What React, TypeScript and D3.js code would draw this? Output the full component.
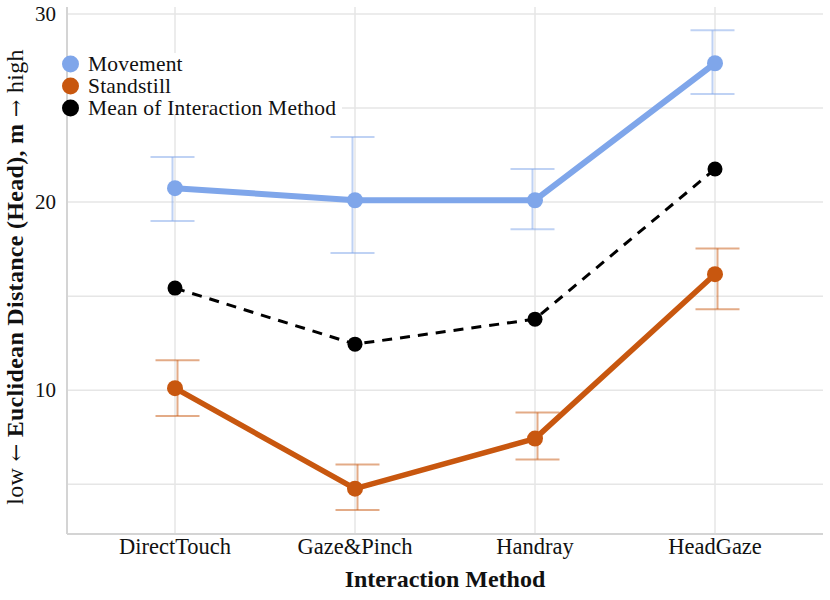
import React from "react";
import * as d3 from "d3";

const categories = ["DirectTouch", "Gaze&Pinch", "Handray", "HeadGaze"];
const movementMean = [20.74, 20.1, 20.1, 27.38];
const movementLow = [19.0, 17.29, 18.56, 25.74];
const movementHigh = [22.4, 23.46, 21.76, 29.13];
const standstillMean = [10.11, 4.77, 7.43, 16.17];
const standstillLow = [8.63, 3.63, 6.32, 14.31];
const standstillHigh = [11.6, 6.06, 8.82, 17.54];
const overallMean = [15.43, 12.45, 13.78, 21.76];
const yTicks = [10, 20, 30];
const yGrid = [5, 10, 15, 20, 25, 30];
const legendLabels = ["Movement", "Standstill", "Mean of Interaction Method"];

const W = 830;
const H = 600;
const left = 67;
const right = 823;
const top = 7;
const bottom = 534;

const BLUE = "#7fa6ea";
const ORANGE = "#c8570f";
const FONT = "'Liberation Serif', 'Times New Roman', serif";
const ARROWFONT = "'DejaVu Serif', serif";

export default function App() {
  const x = d3.scalePoint<string>().domain(categories).range([left, right]).padding(0.6);
  const y = d3.scaleLinear().domain([2.36, 30.37]).range([bottom, top]);
  const line = d3
    .line<number>()
    .x((_, i) => x(categories[i]) as number)
    .y((d) => y(d));

  const series = [
    { name: legendLabels[0], color: BLUE, mean: movementMean, lo: movementLow, hi: movementHigh, dx: -2.5, w: 6 },
    { name: legendLabels[1], color: ORANGE, mean: standstillMean, lo: standstillLow, hi: standstillHigh, dx: 2.5, w: 5.5 },
  ];
  const cap = 22;

  return (
    <svg width={W} height={H} style={{ position: "absolute", left: 0, top: 0, fontFamily: FONT }}>
      <rect width={W} height={H} fill="#fff" />
      {yGrid.map((t) => (
        <line key={"gy" + t} x1={left} x2={right} y1={y(t)} y2={y(t)} stroke="#e6e6e6" strokeWidth={1.5} />
      ))}
      {categories.map((c) => (
        <line key={"gx" + c} x1={x(c)} x2={x(c)} y1={top} y2={bottom} stroke="#e6e6e6" strokeWidth={1.5} />
      ))}
      <line x1={left} x2={left} y1={top} y2={bottom} stroke="#d4d4d4" strokeWidth={2} />
      <line x1={left} x2={right} y1={bottom} y2={bottom} stroke="#d4d4d4" strokeWidth={2} />

      {yTicks.map((t) => (
        <text key={"yt" + t} x={56} y={y(t)} dy="0.33em" textAnchor="end" fontSize={21} fill="#111">
          {t}
        </text>
      ))}
      {categories.map((c) => (
        <text key={"xt" + c} x={x(c)} y={554} textAnchor="middle" fontSize={22.5} fill="#111">
          {c}
        </text>
      ))}
      <text x={(left + right) / 2} y={587} textAnchor="middle" fontSize={24} fontWeight="bold" fill="#111">
        Interaction Method
      </text>
      <text
        transform={`translate(23, 277) rotate(-90)`}
        textAnchor="middle"
        fontSize={24}
        fill="#111"
        letterSpacing={0.3}
      >
        <tspan>low </tspan>
        <tspan fontFamily={ARROWFONT} fontSize={21}>←</tspan>
        <tspan fontWeight="bold"> Euclidean Distance (Head), m </tspan>
        <tspan fontFamily={ARROWFONT} fontSize={21}>→</tspan>
        <tspan> high</tspan>
      </text>

      {series.map((s) => (
        <g key={"eb" + s.name} stroke={s.color} strokeOpacity={0.5} strokeWidth={2}>
          {categories.map((c, i) => {
            const cx = (x(c) as number) + s.dx;
            return (
              <g key={c}>
                <line x1={cx} x2={cx} y1={y(s.lo[i])} y2={y(s.hi[i])} />
                <line x1={cx - cap} x2={cx + cap} y1={y(s.lo[i])} y2={y(s.lo[i])} />
                <line x1={cx - cap} x2={cx + cap} y1={y(s.hi[i])} y2={y(s.hi[i])} />
              </g>
            );
          })}
        </g>
      ))}

      {series.map((s) => (
        <g key={"ln" + s.name}>
          <path d={line(s.mean) || ""} fill="none" stroke={s.color} strokeWidth={s.w} strokeLinejoin="round" />
          {s.mean.map((v, i) => (
            <circle key={i} cx={x(categories[i])} cy={y(v)} r={8} fill={s.color} />
          ))}
        </g>
      ))}
      <g>
        <path d={line(overallMean) || ""} fill="none" stroke="#000" strokeWidth={3} strokeDasharray="10,8" />
        {overallMean.map((v, i) => (
          <circle key={i} cx={x(categories[i])} cy={y(v)} r={7.5} fill="#000" />
        ))}
      </g>

      <rect x={68} y={53} width={274} height={62} fill="#fff" />
      {legendLabels.map((l, i) => (
        <g key={l} transform={`translate(0, ${64 + i * 22})`}>
          <circle cx={70.5} cy={0} r={8.5} fill={[BLUE, ORANGE, "#000"][i]} />
          <text x={88} y={0} dy="0.33em" fontSize={21.5} fill="#111" letterSpacing={0.2}>
            {l}
          </text>
        </g>
      ))}
    </svg>
  );
}
